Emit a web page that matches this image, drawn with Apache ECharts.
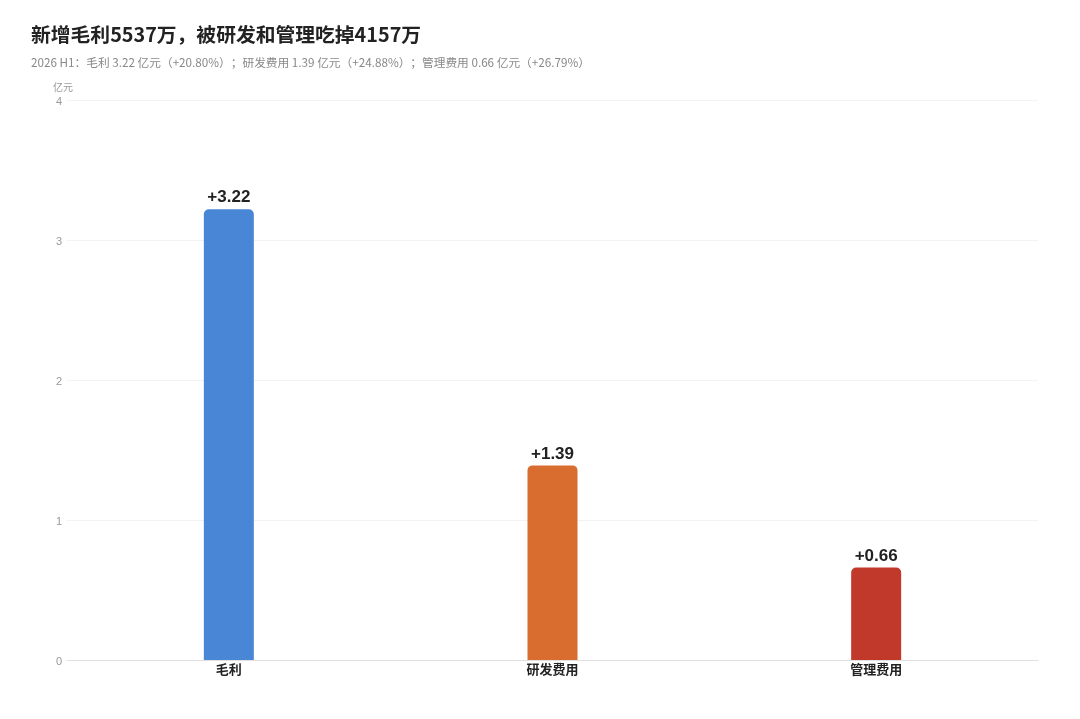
<!DOCTYPE html>
<html><head><meta charset="utf-8">
<script src="https://cdn.jsdelivr.net/npm/echarts@6/dist/echarts.min.js"></script>
<style>html,body{margin:0;padding:0;background:#fff}#c{width:1080px;height:719px}</style>
</head><body><div id="c"></div>
<script>
const categories = ['毛利', '研发费用', '管理费用'];
const values = [3.22, 1.39, 0.66];
const colors = ['#4a86d6', '#d96d30', '#c0392b'];
const yTicks = [0, 1, 2, 3, 4];
const titleText = '新增毛利5537万，被研发和管理吃掉4157万';
const subText = '2026 H1：毛利 3.22 亿元（+20.80%）；研发费用 1.39 亿元（+24.88%）；管理费用 0.66 亿元（+26.79%）';

const chart = echarts.init(document.getElementById('c'));
chart.setOption({
  backgroundColor: '#fff',
  animation: false,
  title: {
    text: titleText, subtext: subText, left: 26, top: 20, itemGap: 12,
    textStyle: {fontSize: 19.8, fontWeight: 'bold', color: '#222', fontFamily: 'Noto Sans CJK SC'},
    subtextStyle: {fontSize: 11.7, color: '#888', fontFamily: 'Noto Sans CJK SC'}
  },
  grid: {left: 67, right: 42, top: 100, bottom: 59},
  xAxis: {
    type: 'category', data: categories,
    axisLine: {lineStyle: {color: '#e0e0e0'}},
    axisTick: {show: false},
    axisLabel: {fontSize: 13, fontWeight: 'bold', color: '#222', margin: 3, fontFamily: 'Noto Sans CJK SC'}
  },
  yAxis: {
    type: 'value', min: yTicks[0], max: yTicks[yTicks.length - 1], interval: 1,
    name: '亿元', nameGap: 8,
    nameTextStyle: {fontSize: 10, color: '#999', align: 'right', padding: [0, -6, 0, 0], fontFamily: 'Noto Sans CJK SC'},
    axisLabel: {fontSize: 11, color: '#999', margin: 5, verticalAlign: 'top', padding: [-4, 0, 0, 0]},
    axisLine: {show: false}, axisTick: {show: false},
    splitLine: {lineStyle: {color: '#f3f3f3'}}
  },
  series: [{
    type: 'bar', barWidth: 50,
    data: values.map((v, i) => ({value: v, itemStyle: {color: colors[i], borderRadius: [5, 5, 0, 0]}})),
    label: {
      show: true, position: 'top', distance: 3,
      formatter: p => '+' + p.value.toFixed(2),
      fontSize: 17, fontWeight: 'bold', color: '#222', fontFamily: 'Liberation Sans'
    }
  }]
});
</script></body></html>
